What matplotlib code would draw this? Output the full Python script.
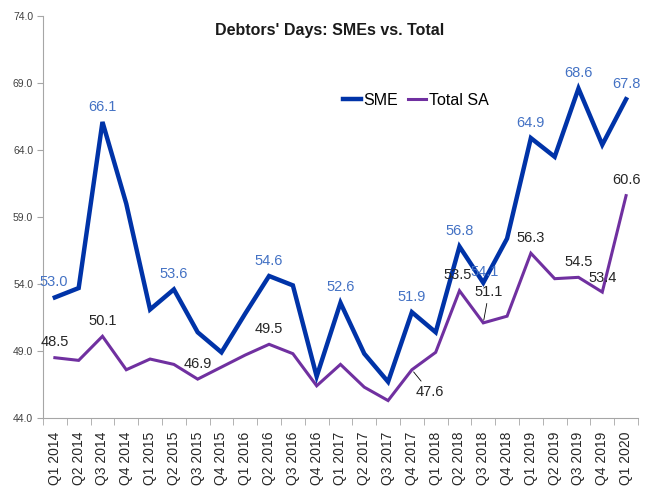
import matplotlib
matplotlib.use("Agg")
import matplotlib.pyplot as plt

plt.rcParams['font.family'] = ['Liberation Sans', 'DejaVu Sans']

quarters = ["Q1 2014", "Q2 2014", "Q3 2014", "Q4 2014",
            "Q1 2015", "Q2 2015", "Q3 2015", "Q4 2015",
            "Q1 2016", "Q2 2016", "Q3 2016", "Q4 2016",
            "Q1 2017", "Q2 2017", "Q3 2017", "Q4 2017",
            "Q1 2018", "Q2 2018", "Q3 2018", "Q4 2018",
            "Q1 2019", "Q2 2019", "Q3 2019", "Q4 2019",
            "Q1 2020"]
sme = [53.0, 53.7, 66.1, 60.0, 52.1, 53.6, 50.4, 48.9, 51.8, 54.6, 53.9, 47.1,
       52.6, 48.8, 46.7, 51.9, 50.4, 56.8, 54.1, 57.4, 64.9, 63.5, 68.6, 64.4, 67.8]
total_sa = [48.5, 48.3, 50.1, 47.6, 48.4, 48.0, 46.9, 47.8, 48.7, 49.5, 48.8, 46.4,
            48.0, 46.3, 45.3, 47.6, 48.9, 53.5, 51.1, 51.6, 56.3, 54.4, 54.5, 53.4, 60.6]

# which points carry a value label, and the label offset in points
sme_labels = {0: (-1, 6), 2: (0, 6), 5: (0, 6), 9: (0, 6), 12: (0, 6),
              15: (0, 6), 17: (0, 6), 18: (1, 3), 20: (0, 6), 22: (0, 6), 24: (0, 6)}
total_labels = {0: (0, 6), 2: (0, 6), 6: (0, 6), 9: (0, 6), 17: (-1, 6),
                20: (0, 6), 22: (0, 6), 23: (0, 5), 24: (0, 6)}

sme_color = "#0033a8"
sa_color = "#7030a0"

fig = plt.figure(figsize=(6.51, 4.9), dpi=100)
ax = fig.add_axes([0.066, 0.147, 0.914, 0.82])
x = list(range(len(quarters)))
ax.plot(x, sme, color=sme_color, lw=3.2, label="SME", solid_joinstyle="miter")
ax.plot(x, total_sa, color=sa_color, lw=2.2, label="Total SA", solid_joinstyle="miter")

for i, (dx, dy) in sme_labels.items():
    ax.annotate(f"{sme[i]:.1f}", (i, sme[i]), xytext=(dx, dy), textcoords="offset points",
                ha="center", va="bottom", color="#4472c4", fontsize=10.5)
for i, (dx, dy) in total_labels.items():
    ax.annotate(f"{total_sa[i]:.1f}", (i, total_sa[i]), xytext=(dx, dy), textcoords="offset points",
                ha="center", va="bottom", color="#262626", fontsize=10.5)
# labels with leader lines
ax.annotate(f"{total_sa[15]:.1f}", (15, total_sa[15]), xytext=(13, -16), textcoords="offset points",
            ha="center", va="center", color="#262626", fontsize=10.5,
            arrowprops=dict(arrowstyle="-", color="black", lw=0.6, shrinkA=1, shrinkB=2))
ax.annotate(f"{total_sa[18]:.1f}", (18, total_sa[18]), xytext=(4, 22), textcoords="offset points",
            ha="center", va="center", color="#262626", fontsize=10.5,
            arrowprops=dict(arrowstyle="-", color="black", lw=0.6, shrinkA=1, shrinkB=2))

ax.set_xlim(-0.5, len(quarters) - 0.5)
ax.set_ylim(44, 74)
ax.set_yticks([44, 49, 54, 59, 64, 69, 74])
ax.set_yticklabels([f"{v:.1f}" for v in [44, 49, 54, 59, 64, 69, 74]], fontsize=7.5, color="#404040")
ax.set_xticks(x)
ax.set_xticklabels(quarters, rotation=90, fontsize=10, color="#262626")
ax.set_xticks([i - 0.5 for i in range(len(quarters) + 1)], minor=True)
ax.tick_params(axis="x", which="major", length=0, pad=10)
ax.tick_params(axis="x", which="minor", length=5, color="#a6a6a6")
ax.tick_params(axis="y", length=4, color="#a6a6a6", pad=3)

for s in ["top", "right"]:
    ax.spines[s].set_visible(False)
for s in ["left", "bottom"]:
    ax.spines[s].set_color("#a6a6a6")

fig.text(0.507, 0.938, "Debtors' Days: SMEs vs. Total", fontsize=11.5, fontweight="bold",
         ha="center", va="center", color="#1a1a1a")

ax.legend(loc="upper left", bbox_to_anchor=(0.48, 0.845), frameon=False, ncol=2,
          fontsize=11.5, handlelength=1.1, columnspacing=0.6, handletextpad=0.2)

fig.savefig("out.png", dpi=100)
